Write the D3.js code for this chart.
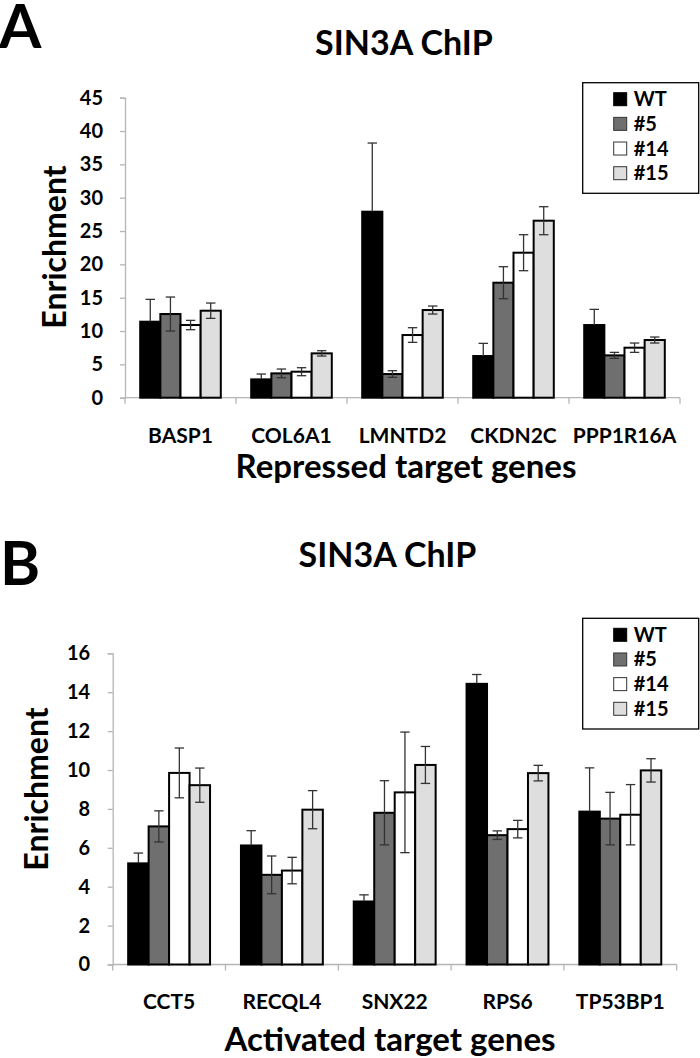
<!DOCTYPE html>
<html>
<head>
<meta charset="utf-8">
<script src="https://cdn.jsdelivr.net/npm/d3@7"></script>
<style>
html,body{margin:0;padding:0;background:#fff;}
svg{display:block;}
text{font-family:Lato,"Open Sans",sans-serif;font-weight:bold;fill:#000;}
</style>
</head>
<body>
<svg id="chart" width="700" height="1058"></svg>
<script>
// ---------- data ----------
const seriesNames = ["WT", "#5", "#14", "#15"];

const genesA = ["BASP1", "COL6A1", "LMNTD2", "CKDN2C", "PPP1R16A"];
const wtA    = [11.4, 2.75, 27.9, 6.25, 10.9];
const wtAErr = [3.35, 0.8, 10.3, 1.9, 2.35];
const s5A    = [12.55, 3.65, 3.55, 17.25, 6.35];
const s5AErr = [2.55, 0.65, 0.5, 2.4, 0.45];
const s14A   = [10.9, 3.9, 9.4, 21.75, 7.5];
const s14AErr= [0.7, 0.6, 1.1, 2.7, 0.7];
const s15A   = [13.05, 6.65, 13.15, 26.55, 8.65];
const s15AErr= [1.15, 0.4, 0.6, 2.1, 0.45];
const ticksA = [0, 5, 10, 15, 20, 25, 30, 35, 40, 45];

const genesB = ["CCT5", "RECQL4", "SNX22", "RPS6", "TP53BP1"];
const wtB    = [5.2, 6.12, 3.24, 14.43, 7.86];
const wtBErr = [0.53, 0.76, 0.34, 0.48, 2.25];
const s5B    = [7.1, 4.61, 7.8, 6.65, 7.5];
const s5BErr = [0.8, 0.97, 1.65, 0.22, 1.35];
const s14B   = [9.85, 4.83, 8.85, 6.96, 7.7];
const s14BErr= [1.28, 0.68, 3.1, 0.45, 1.55];
const s15B   = [9.22, 7.96, 10.26, 9.84, 9.98];
const s15BErr= [0.88, 0.98, 0.95, 0.4, 0.6];
const ticksB = [0, 2, 4, 6, 8, 10, 12, 14, 16];

const fills = {"WT": "#000000", "#5": "#6f6f6f", "#14": "#ffffff", "#15": "#dedede"};
const errColor = "#333333";

const svg = d3.select("#chart");

function drawPanel(p) {
  const g = svg.append("g");
  const rows = [];
  p.genes.forEach((gene, i) => {
    p.vals.forEach((arr, k) => {
      rows.push({gene, s: seriesNames[k], v: arr[i], e: p.errs[k][i]});
    });
  });

  const x0 = d3.scaleBand().domain(p.genes).range([p.left, p.right]).padding(0);
  const bw = x0.bandwidth();
  const x1 = d3.scaleBand().domain(seriesNames).range([bw * 0.137, bw * 0.863]).padding(0);
  const y = d3.scaleLinear().domain([0, p.ymax]).range([p.y0, p.ytop]);

  // y axis
  const ya = d3.axisLeft(y).tickValues(p.ticks).tickSize(5).tickPadding(4);
  const yg = g.append("g").attr("transform", `translate(${p.left},0)`).call(ya);
  yg.select(".domain").attr("stroke", "#b5b5b5").attr("stroke-width", 1.3);
  yg.selectAll(".tick line").attr("stroke", "#b5b5b5").attr("stroke-width", 1.3);
  yg.selectAll(".tick text").attr("font-size", 20).attr("font-family", "Lato").attr("font-weight", "bold")
    .attr("fill", "#000").attr("dx", p.tickDx);

  // x axis line + separators
  g.append("line").attr("x1", p.left).attr("x2", p.right).attr("y1", y(0)).attr("y2", y(0))
    .attr("stroke", "#b5b5b5").attr("stroke-width", 1.3);
  const seps = p.genes.map(d => x0(d)).concat([p.right]);
  g.selectAll(".sep").data(seps).enter().append("line")
    .attr("x1", d => d).attr("x2", d => d).attr("y1", y(0)).attr("y2", y(0) + 6)
    .attr("stroke", "#b5b5b5").attr("stroke-width", 1.3);

  // bars
  g.selectAll(".bar").data(rows).enter().append("rect")
    .attr("x", d => x0(d.gene) + x1(d.s))
    .attr("y", d => y(d.v))
    .attr("width", x1.bandwidth())
    .attr("height", d => y(0) - y(d.v))
    .attr("fill", d => fills[d.s])
    .attr("stroke", "#000").attr("stroke-width", 2);

  // error bars
  const eg = g.selectAll(".err").data(rows).enter().append("g").attr("stroke-width", 1.3);
  const cx = d => x0(d.gene) + x1(d.s) + x1.bandwidth() / 2;
  const lowCol = d => d.s === "WT" ? "#000" : errColor;
  eg.append("line").attr("stroke", errColor).attr("x1", cx).attr("x2", cx).attr("y1", d => y(d.v + d.e)).attr("y2", d => y(d.v));
  eg.append("line").attr("stroke", lowCol).attr("x1", cx).attr("x2", cx).attr("y1", d => y(d.v)).attr("y2", d => y(d.v - d.e));
  eg.append("line").attr("stroke", errColor).attr("x1", d => cx(d) - 4.7).attr("x2", d => cx(d) + 4.7).attr("y1", d => y(d.v + d.e)).attr("y2", d => y(d.v + d.e));
  eg.append("line").attr("stroke", lowCol).attr("x1", d => cx(d) - 4.7).attr("x2", d => cx(d) + 4.7).attr("y1", d => y(d.v - d.e)).attr("y2", d => y(d.v - d.e));

  // category labels
  g.selectAll(".cat").data(p.genes).enter().append("text")
    .attr("x", d => x0(d) + bw / 2).attr("y", p.catY)
    .attr("text-anchor", "middle").attr("font-size", 21).text(d => d);

  // axis titles
  g.append("text").attr("x", p.xtX).attr("y", p.xtY).attr("text-anchor", "middle")
    .attr("font-size", 33).text(p.xtitle);
  g.append("text").attr("transform", `translate(${p.ytX},${p.ytY}) rotate(-90)`)
    .attr("text-anchor", "middle").attr("font-size", 32).text("Enrichment");

  // title and panel letter
  g.append("text").attr("x", p.titleX).attr("y", p.titleY).attr("text-anchor", "middle")
    .attr("font-size", 34).text("SIN3A ChIP");
  g.append("text").attr("x", p.letterX).attr("y", p.letterY).attr("font-size", 61).text(p.letter);

  // legend
  const lg = g.append("g");
  lg.append("rect").attr("x", p.legX).attr("y", p.legY).attr("width", p.legW).attr("height", p.legH)
    .attr("fill", "#fff").attr("stroke", "#000").attr("stroke-width", 1.3);
  const ly = d3.scalePoint().domain(seriesNames).range([p.legY + 16.5, p.legY + 90.5]);
  const items = lg.selectAll(".li").data(seriesNames).enter().append("g");
  items.append("rect").attr("x", p.legX + 31).attr("y", d => ly(d) - 6.5).attr("width", 13).attr("height", 13)
    .attr("fill", d => fills[d]).attr("stroke", d => d === "WT" ? "#000" : "#333").attr("stroke-width", 1);
  items.append("text").attr("x", p.legX + 51).attr("y", d => ly(d) + 7).attr("font-size", 20).text(d => d);
}

drawPanel({
  genes: genesA, vals: [wtA, s5A, s14A, s15A], errs: [wtAErr, s5AErr, s14AErr, s15AErr],
  ticks: ticksA, ymax: 45, left: 125, right: 680, y0: 397.7, ytop: 97.7, tickDx: -13,
  catY: 443, xtitle: "Repressed target genes", xtX: 406, xtY: 478,
  ytX: 66, ytY: 247, titleX: 404, titleY: 55, letter: "A", letterX: -1, letterY: 48,
  legX: 582.7, legY: 82.7, legW: 116, legH: 110.6
});

drawPanel({
  genes: genesB, vals: [wtB, s5B, s14B, s15B], errs: [wtBErr, s5BErr, s14BErr, s15BErr],
  ticks: ticksB, ymax: 16, left: 112.7, right: 676.7, y0: 964.5, ytop: 653.3, tickDx: -13.5,
  catY: 1009, xtitle: "Activated target genes", xtX: 390, xtY: 1051,
  ytX: 48, ytY: 789, titleX: 387.5, titleY: 566.5, letter: "B", letterX: 0, letterY: 585,
  legX: 582.7, legY: 618.3, legW: 116, legH: 110.7
});
</script>
</body>
</html>
